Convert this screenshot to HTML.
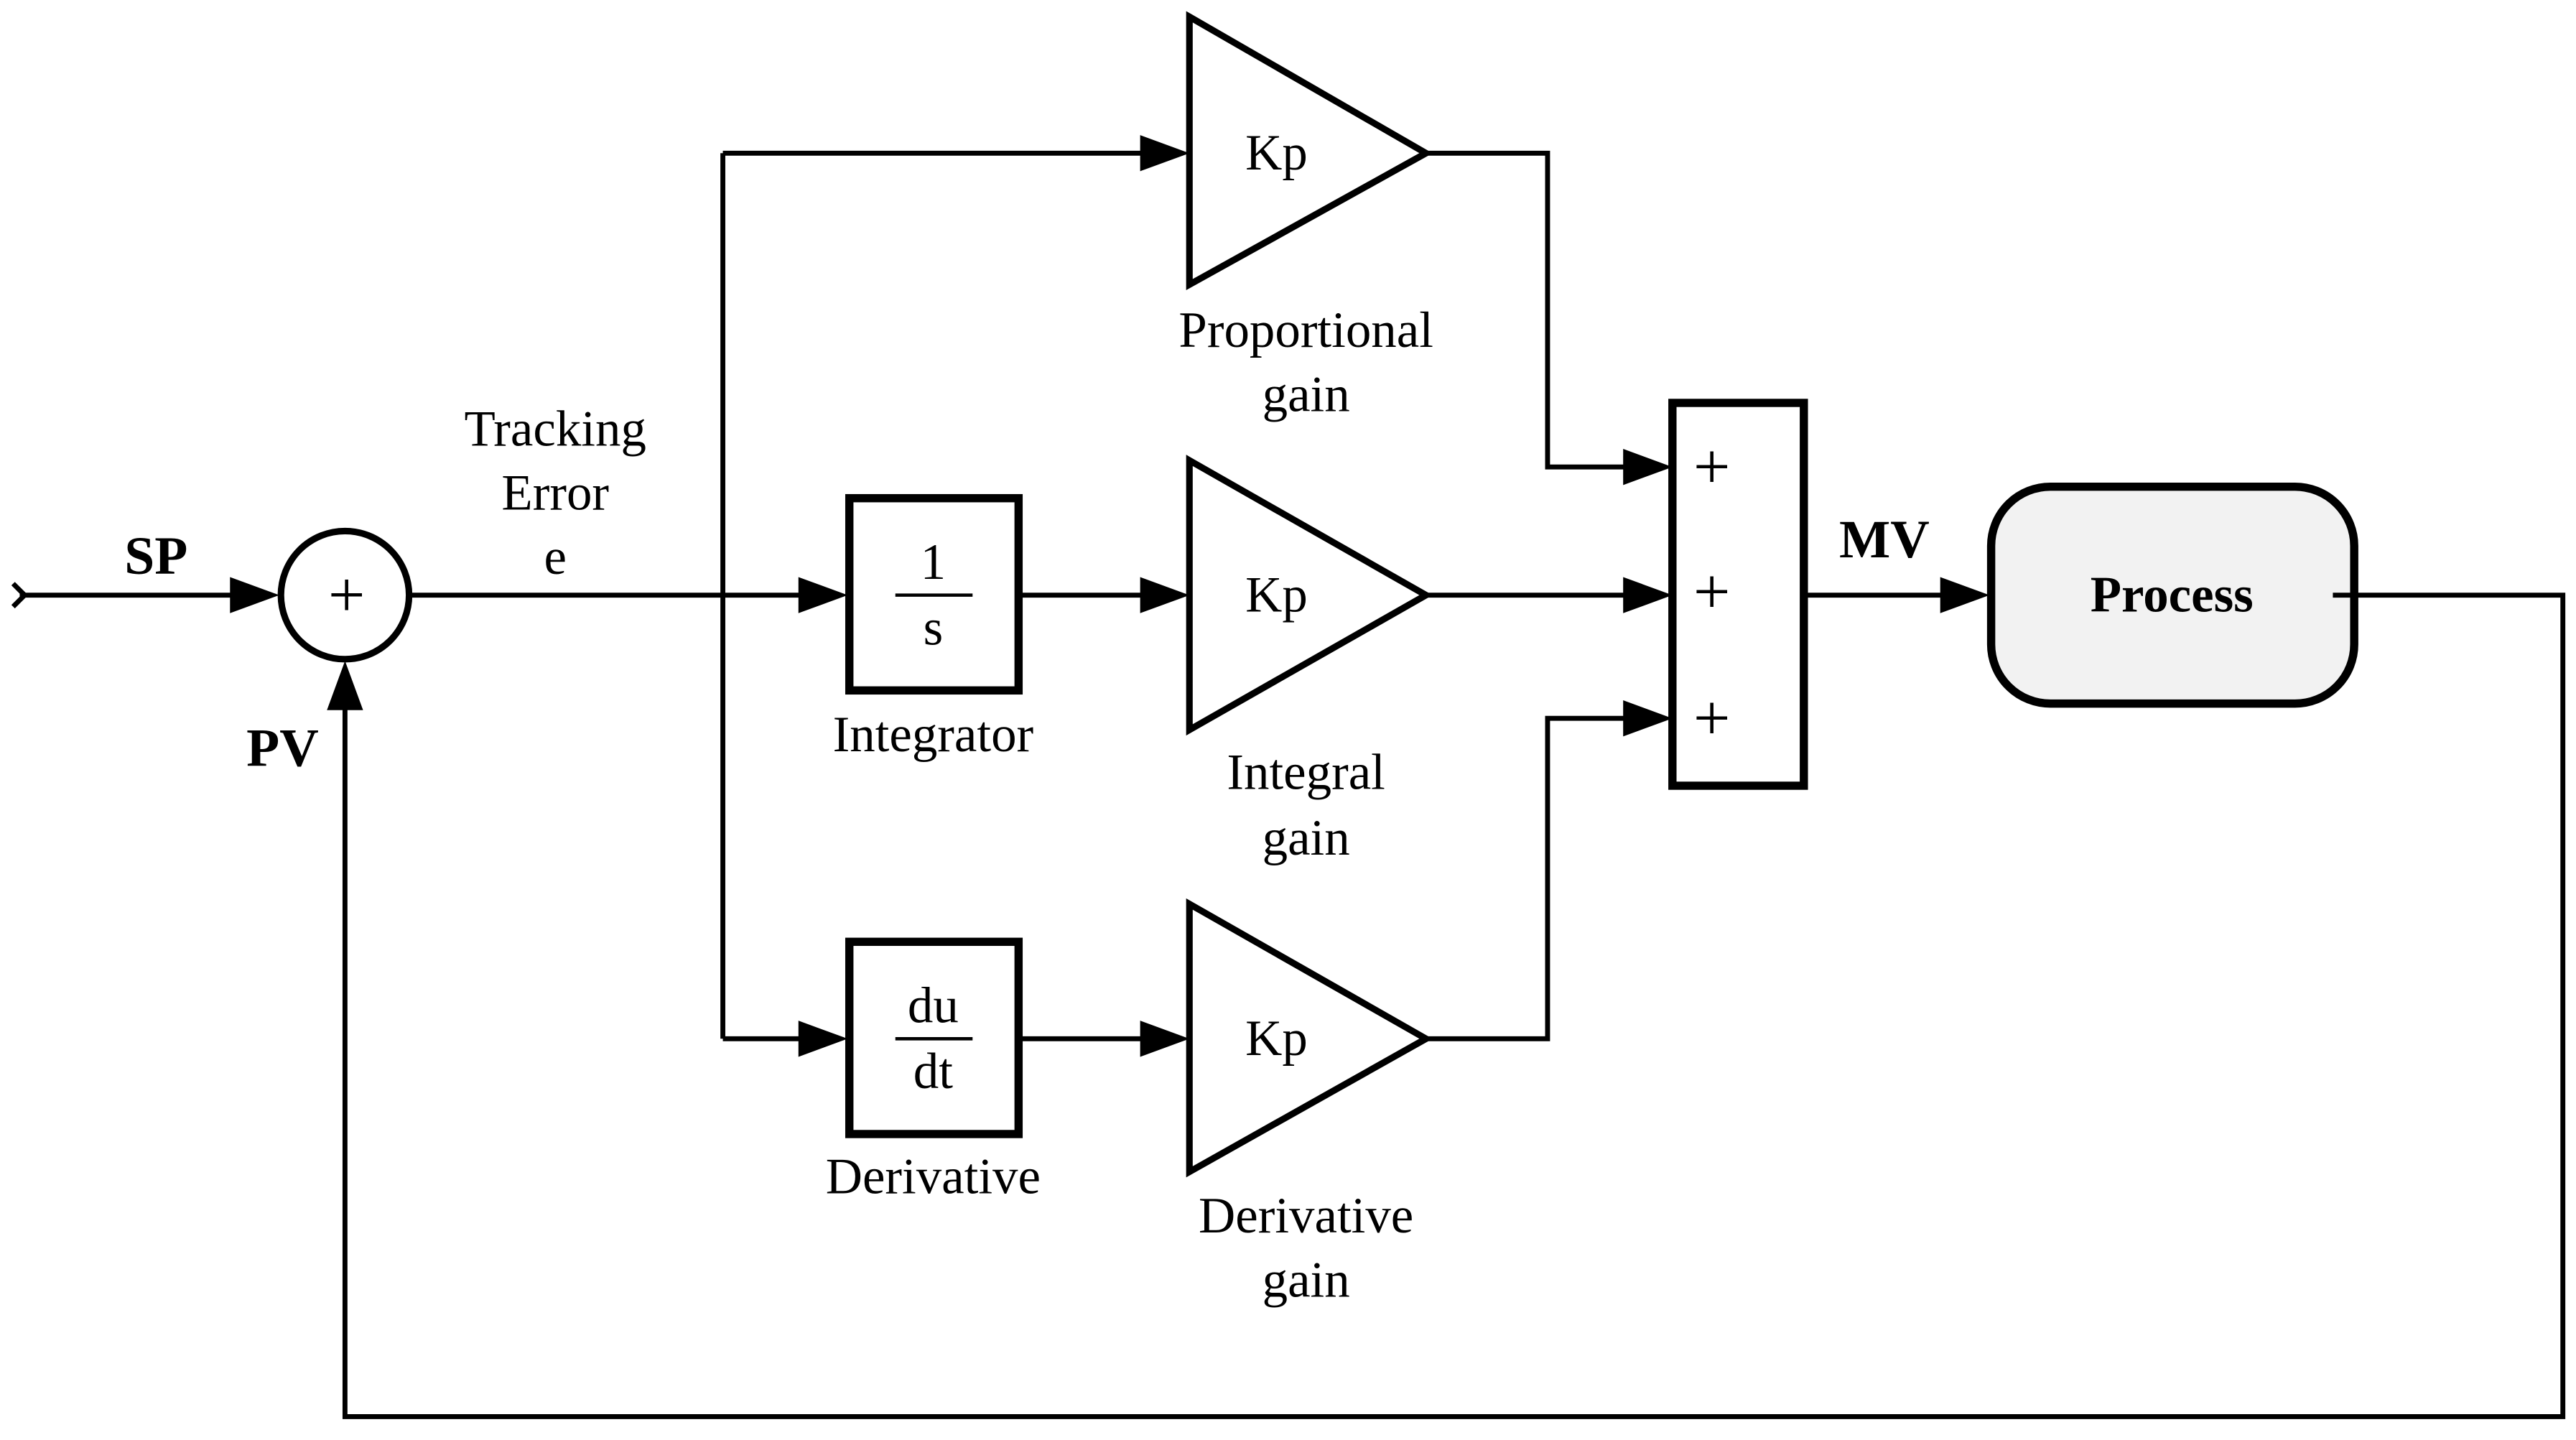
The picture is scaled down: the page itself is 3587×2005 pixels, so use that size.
<!DOCTYPE html>
<html><head><meta charset="utf-8"><style>html,body{margin:0;padding:0;background:#fff}svg{display:block}</style></head>
<body>
<svg width="3587" height="2005" viewBox="0 0 1568 876" xmlns="http://www.w3.org/2000/svg">
<g fill="none" stroke="#000" stroke-width="3">
<path d="M8,355 L15,362 L8,369"/>
<line x1="12" y1="362" x2="145" y2="362"/>
<circle cx="210" cy="362" r="39" stroke-width="4"/>
<line x1="250" y1="362" x2="490" y2="362"/>
<line x1="440" y1="93" x2="440" y2="632"/>
<line x1="440" y1="93" x2="698" y2="93"/>
<line x1="440" y1="632" x2="490" y2="632"/>
<rect x="517" y="303" width="103" height="117" stroke-width="5"/>
<rect x="517" y="573" width="103" height="117" stroke-width="5"/>
<line x1="545" y1="362" x2="592" y2="362" stroke-width="2"/>
<line x1="545" y1="632" x2="592" y2="632" stroke-width="2"/>
<line x1="620" y1="362" x2="698" y2="362"/>
<line x1="620" y1="632" x2="698" y2="632"/>
<path d="M724,10 L868,93 L724,173 Z" stroke-width="4"/>
<path d="M724,280 L868,362 L724,444 Z" stroke-width="4"/>
<path d="M724,550 L868,632 L724,713 Z" stroke-width="4"/>
<path d="M868,93 L942,93 L942,284 L992,284"/>
<line x1="868" y1="362" x2="992" y2="362"/>
<path d="M868,632 L942,632 L942,437 L992,437"/>
<rect x="1018" y="245" width="80" height="233" stroke-width="5"/>
<line x1="1098" y1="362" x2="1185" y2="362"/>
<rect x="1212" y="296" width="221" height="132" rx="36" ry="36" fill="#f2f2f2" stroke-width="5"/>
<path d="M1420,362 L1560,362 L1560,862 L210,862 L210,428"/>
</g>
<g fill="#000">
<path d="M170,362 L140,351 L140,373 Z"/>
<path d="M516,362 L486,351 L486,373 Z"/>
<path d="M516,632 L486,621 L486,643 Z"/>
<path d="M724,93 L694,82 L694,104 Z"/>
<path d="M724,362 L694,351 L694,373 Z"/>
<path d="M724,632 L694,621 L694,643 Z"/>
<path d="M1018,284 L988,273 L988,295 Z"/>
<path d="M1018,362 L988,351 L988,373 Z"/>
<path d="M1018,437 L988,426 L988,448 Z"/>
<path d="M1211,362 L1181,351 L1181,373 Z"/>
<path d="M210,402 L199,432 L221,432 Z"/>
</g>
<g font-family="Liberation Serif, serif" font-size="31" text-anchor="middle" fill="#000">
<text x="211" y="375" font-size="40">+</text>
<text x="95" y="349" font-weight="bold" font-size="33">SP</text>
<text x="172" y="466" font-weight="bold" font-size="33">PV</text>
<text x="338" y="271">Tracking</text>
<text x="338" y="310">Error</text>
<text x="338" y="349">e</text>
<text x="568" y="352">1</text>
<text x="568" y="392">s</text>
<text x="568" y="622">du</text>
<text x="568" y="662">dt</text>
<text x="568" y="457">Integrator</text>
<text x="568" y="726">Derivative</text>
<text x="777" y="103">Kp</text>
<text x="777" y="372">Kp</text>
<text x="777" y="642">Kp</text>
<text x="795" y="211">Proportional</text>
<text x="795" y="250">gain</text>
<text x="795" y="480">Integral</text>
<text x="795" y="520">gain</text>
<text x="795" y="750">Derivative</text>
<text x="795" y="789">gain</text>
<text x="1042" y="297" font-size="40">+</text>
<text x="1042" y="373" font-size="40">+</text>
<text x="1042" y="450" font-size="40">+</text>
<text x="1147" y="339" font-weight="bold" font-size="33">MV</text>
<text x="1322" y="372" font-weight="bold">Process</text>
</g>
</svg>
</body></html>
